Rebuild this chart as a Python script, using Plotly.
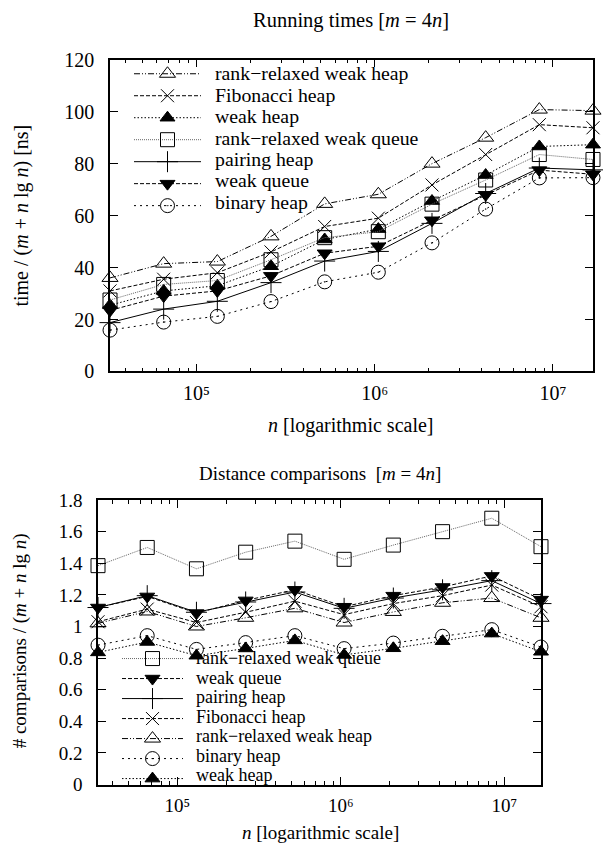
import plotly.graph_objects as go

# ---------------- data ----------------
n_values = [32768, 65536, 131072, 262144, 524288, 1048576, 2097152, 4194304, 8388608, 16777216]

# Running times [ns] / (m + n lg n)
rt_rank_relaxed_weak_heap = [36.0, 41.5, 42.3, 52.0, 64.5, 68.2, 80.0, 90.0, 100.8, 100.4]
rt_fibonacci_heap = [31.0, 35.5, 38.0, 46.0, 55.8, 59.0, 71.8, 83.5, 95.0, 93.8]
rt_weak_heap = [25.5, 31.0, 33.0, 40.5, 50.8, 54.8, 65.6, 75.6, 86.6, 87.3]
rt_rank_relaxed_weak_queue = [27.5, 33.5, 35.0, 43.0, 51.5, 53.8, 64.4, 73.7, 83.5, 81.6]
rt_pairing_heap = [18.8, 24.0, 27.0, 34.2, 42.5, 46.2, 57.0, 68.5, 78.3, 77.6]
rt_weak_queue = [23.5, 29.0, 31.0, 36.8, 45.5, 48.2, 58.2, 68.0, 77.5, 75.9]
rt_binary_heap = [15.9, 19.0, 21.2, 26.9, 34.5, 38.2, 49.5, 62.5, 74.5, 74.6]

# Distance comparisons / (m + n lg n)
dc_rank_relaxed_weak_queue = [1.385, 1.50, 1.365, 1.47, 1.54, 1.425, 1.515, 1.60, 1.685, 1.505]
dc_weak_queue = [1.12, 1.19, 1.085, 1.165, 1.232, 1.125, 1.195, 1.25, 1.32, 1.17]
dc_pairing_heap = [1.12, 1.195, 1.09, 1.155, 1.218, 1.115, 1.18, 1.232, 1.29, 1.145]
dc_fibonacci_heap = [1.03, 1.11, 1.025, 1.09, 1.16, 1.075, 1.145, 1.195, 1.262, 1.125]
dc_rank_relaxed_weak_heap = [1.02, 1.095, 1.0, 1.055, 1.115, 1.025, 1.092, 1.15, 1.18, 1.055]
dc_binary_heap = [0.882, 0.942, 0.855, 0.898, 0.942, 0.86, 0.895, 0.938, 0.98, 0.87]
dc_weak_heap = [0.836, 0.902, 0.815, 0.861, 0.912, 0.82, 0.862, 0.907, 0.955, 0.84]

top_order = ["rank\u2212relaxed weak heap", "Fibonacci heap", "weak heap",
             "rank\u2212relaxed weak queue", "pairing heap", "weak queue", "binary heap"]
bottom_order = ["rank\u2212relaxed weak queue", "weak queue", "pairing heap",
                "Fibonacci heap", "rank\u2212relaxed weak heap", "binary heap", "weak heap"]

# x tick labels (decades)
x_tick_alias = {"100k": "10\u2075", "1M": "10\u2076", "10M": "10\u2077"}

# ---------------- styles ----------------
FONT = "Liberation Serif"
styles = {
    "rank\u2212relaxed weak heap": dict(symbol="triangle-up-open", size=14, dash="6px,2px,1px,2px,1px,2px", color="black"),
    "Fibonacci heap": dict(symbol="x-thin-open", size=13, dash="4px,2px", color="black"),
    "weak heap": dict(symbol="triangle-up", size=13, dash="1.5px,2px", color="black"),
    "rank\u2212relaxed weak queue": dict(symbol="square-open", size=14, dash="1px,1px", color="#666666"),
    "pairing heap": dict(symbol="cross-thin-open", size=15, dash="solid", color="black"),
    "weak queue": dict(symbol="triangle-down", size=13, dash="4px,2px", color="black"),
    "binary heap": dict(symbol="circle-open-dot", size=14, dash="2px,4px", color="black"),
}

top_data = {
    "rank\u2212relaxed weak heap": rt_rank_relaxed_weak_heap,
    "Fibonacci heap": rt_fibonacci_heap,
    "weak heap": rt_weak_heap,
    "rank\u2212relaxed weak queue": rt_rank_relaxed_weak_queue,
    "pairing heap": rt_pairing_heap,
    "weak queue": rt_weak_queue,
    "binary heap": rt_binary_heap,
}
bottom_data = {
    "rank\u2212relaxed weak queue": dc_rank_relaxed_weak_queue,
    "weak queue": dc_weak_queue,
    "pairing heap": dc_pairing_heap,
    "Fibonacci heap": dc_fibonacci_heap,
    "rank\u2212relaxed weak heap": dc_rank_relaxed_weak_heap,
    "binary heap": dc_binary_heap,
    "weak heap": dc_weak_heap,
}

fig = go.Figure()


def add_series(order, data, xa, ya, legend):
    for rank, name in enumerate(order):
        st = styles[name]
        fig.add_trace(go.Scatter(
            x=n_values, y=data[name], xaxis=xa, yaxis=ya,
            mode="lines+markers",
            name=" ",
            meta=name,
            legend=legend, legendrank=rank + 1,
            cliponaxis=False,
            line=dict(color=st["color"], width=1, dash=st["dash"]),
            marker=dict(symbol=st["symbol"], size=st["size"], color="black",
                        line=dict(color="black", width=1)),
        ))


add_series(top_order, top_data, "x", "y", "legend")
add_series(bottom_order, bottom_data, "x2", "y2", "legend2")

W, H = 603, 853
top_x = [110 / W, 593 / W]
top_y = [1 - 370 / H, 1 - 50 / H]
bot_x = [98 / W, 541 / W]
bot_y = [1 - 794 / H, 1 - 502 / H]

xr = [4.5154, 7.2248]

common_x = dict(type="log", range=xr, dtick=1, labelalias=x_tick_alias,
                ticks="inside", ticklen=8, tickwidth=1, tickcolor="black",
                minor=dict(ticks="inside", ticklen=4, tickcolor="black", dtick="D1", showgrid=False),
                showline=True, linecolor="black", linewidth=1.5, mirror="allticks",
                showgrid=False, zeroline=False, ticklabelstandoff=3)
common_y = dict(ticks="inside", ticklen=8, tickwidth=1, tickcolor="black",
                showline=True, linecolor="black", linewidth=1.5, mirror="allticks",
                showgrid=False, zeroline=False, ticklabelstandoff=10)

# legend geometry (symbol rows): row height = 1.3 * legend font size + 3
TOP_LEG_FONT = 14.6
TOP_ROW = 1.3 * TOP_LEG_FONT + 3
TOP_LEG_TOP = 48.0
BOT_LEG_FONT = 13.08
BOT_ROW = 1.3 * BOT_LEG_FONT + 3
BOT_LEG_TOP = 649.3

fig.update_layout(
    width=W, height=H,
    margin=dict(l=0, r=0, t=0, b=0),
    paper_bgcolor="white", plot_bgcolor="white",
    font=dict(family=FONT, size=19, color="black"),
    xaxis=dict(domain=top_x, anchor="y", tickfont=dict(family=FONT, size=20, color="black"), **common_x),
    yaxis=dict(domain=top_y, anchor="x", range=[0, 120], dtick=20,
               tickfont=dict(family=FONT, size=20, color="black"), **common_y),
    xaxis2=dict(domain=bot_x, anchor="y2", tickfont=dict(family=FONT, size=19, color="black"), **common_x),
    yaxis2=dict(domain=bot_y, anchor="x2", range=[0, 1.8], dtick=0.2,
                tickfont=dict(family=FONT, size=19, color="black"), **common_y),
    legend=dict(x=129 / W, y=1 - TOP_LEG_TOP / H, xanchor="left", yanchor="top",
                bgcolor="rgba(0,0,0,0)", borderwidth=0, itemwidth=67,
                font=dict(family=FONT, size=TOP_LEG_FONT, color="black"), tracegroupgap=0),
    legend2=dict(x=117 / W, y=1 - BOT_LEG_TOP / H, xanchor="left", yanchor="top",
                 bgcolor="rgba(0,0,0,0)", borderwidth=0, itemwidth=61,
                 font=dict(family=FONT, size=BOT_LEG_FONT, color="black"), tracegroupgap=0),
    showlegend=True,
)

# legend labels as text next to the native legend symbols
for i, name in enumerate(top_order):
    yc = TOP_LEG_TOP + 5 + TOP_ROW / 2 + i * TOP_ROW
    fig.add_annotation(xref="paper", yref="paper", x=214 / W, y=1 - yc / H,
                       xanchor="left", yanchor="middle", showarrow=False, borderpad=0,
                       text=name, font=dict(family=FONT, size=19.8, color="black"))
for i, name in enumerate(bottom_order):
    yc = BOT_LEG_TOP + 5 + BOT_ROW / 2 + i * BOT_ROW
    fig.add_annotation(xref="paper", yref="paper", x=195 / W, y=1 - yc / H,
                       xanchor="left", yanchor="middle", showarrow=False, borderpad=0,
                       text=name, font=dict(family=FONT, size=18, color="black"))

annotations = [
    dict(text="Running times [<i>m</i> = 4<i>n</i>]", x=351 / W, y=1 - 10 / H, size=20.5),
    dict(text="<i>n</i> [logarithmic scale]", x=351 / W, y=1 - 425 / H, size=20),
    dict(text="Distance comparisons  [<i>m</i> = 4<i>n</i>]", x=320 / W, y=1 - 475 / H, size=19),
    dict(text="<i>n</i> [logarithmic scale]", x=320 / W, y=1 - 843 / H, size=19),
    dict(text="time / (<i>m</i> + <i>n</i> lg <i>n</i>) [ns]", x=22 / W, y=1 - 210 / H, size=20, textangle=-90),
    dict(text="# comparisons / (<i>m</i> + <i>n</i> lg <i>n</i>)", x=20 / W, y=1 - 647 / H, size=19, textangle=-90),
]
for a in annotations:
    size = a.pop("size")
    fig.add_annotation(xref="paper", yref="paper", xanchor="center", yanchor="middle",
                       showarrow=False, borderpad=0, font=dict(family=FONT, size=size, color="black"), **a)

fig.write_html("out.html")
